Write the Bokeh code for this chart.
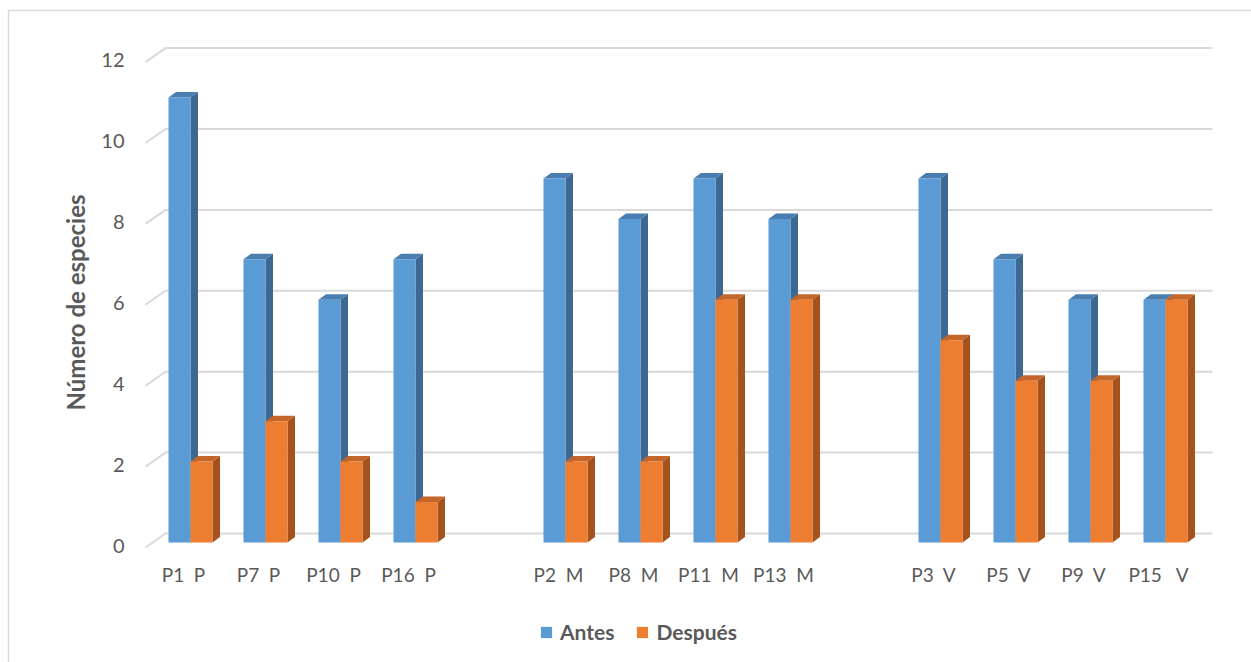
import math
from bokeh.plotting import figure
from bokeh.models import Range1d, Legend, LegendItem
from bokeh.core.properties import value
from bokeh.embed import file_html
from bokeh.resources import INLINE

# ---- data -------------------------------------------------------------
categories = ["P1  P", "P7  P", "P10  P", "P16  P",
              "P2  M", "P8  M", "P11  M", "P13  M",
              "P3  V", "P5  V", "P9  V", "P15   V"]
antes = [11, 7, 6, 7, 9, 8, 9, 8, 9, 7, 6, 6]
despues = [2, 3, 2, 1, 2, 2, 6, 6, 5, 4, 4, 6]
# slot of each category on the x axis (empty slots separate the groups)
slots = [0, 1, 2, 3, 5, 6, 7, 8, 10, 11, 12, 13]
y_ticks = [0, 2, 4, 6, 8, 10, 12]
y_title = "Número de especies"

# ---- style ------------------------------------------------------------
FONT = "Lato"
TEXT = "#595959"
GRID = "#D9D9D9"
BLUE = ("#5B9BD5", "#3C6891", "#4A7DB0")     # front, side, top
ORANGE = ("#ED7D31", "#A6521C", "#C4652A")

W, H = 1251, 662
SLOT_PX = 75.0          # horizontal size of one category slot
UNIT_PX = 40.45         # vertical size of one species
ORIGIN = (190, 542)     # pixel of slot 0 / value 0


def dx(px):
    return px / SLOT_PX


def dy(px):
    return px / UNIT_PX


def sx(px):             # canvas pixel -> x data
    return (px - ORIGIN[0]) / SLOT_PX


def sy(px):             # canvas pixel -> y data
    return (ORIGIN[1] - px) / UNIT_PX


BAR_W = dx(22)
DEPTH_X, DEPTH_Y = dx(7.5), dy(5.5)
FLOOR_DY = dy(5)        # front edge of the floor sits a little lower
WALL_DY = dy(9)         # back wall lines sit a little higher

p = figure(width=W, height=H, output_backend="svg", toolbar_location=None,
           x_range=Range1d(sx(0), sx(W)), y_range=Range1d(sy(H), sy(0)),
           x_axis_location=None, y_axis_location=None, min_border=0)
p.outline_line_color = None
p.xgrid.visible = False
p.ygrid.visible = False
p.background_fill_color = "white"
p.border_fill_color = "white"

# ---- chart area border --------------------------------------------------
p.line([sx(8), sx(8), sx(W + 10)], [sy(H + 10), sy(10), sy(10)],
       line_color=GRID, line_width=1.5)

# ---- floor / wall gridlines -------------------------------------------
x_left, x_wall, x_right = sx(145), sx(165), sx(1212)
gx = [[x_left, x_wall, x_right] for _ in y_ticks]
gy = [[v - FLOOR_DY, v + WALL_DY, v + WALL_DY] for v in y_ticks]
p.multi_line(gx, gy, line_color=GRID, line_width=2)


# ---- 3D bars ----------------------------------------------------------
def bars(values, offset, colors):
    left = [s + offset for s in slots]
    right = [l + BAR_W for l in left]
    side_x = [[r, r + DEPTH_X, r + DEPTH_X, r] for r in right]
    side_y = [[0, DEPTH_Y, v + DEPTH_Y, v] for v in values]
    top_x = [[l, r, r + DEPTH_X, l + DEPTH_X] for l, r in zip(left, right)]
    top_y = [[v, v, v + DEPTH_Y, v + DEPTH_Y] for v in values]
    p.patches(side_x, side_y, fill_color=colors[1], line_color=None)
    p.patches(top_x, top_y, fill_color=colors[2], line_color=None)
    return p.quad(left=left, right=right, bottom=0, top=values,
                  fill_color=colors[0], line_color=None)


r_antes = bars(antes, -BAR_W, BLUE)
r_desp = bars(despues, 0, ORANGE)

# ---- axis texts ---------------------------------------------------------
p.text(x=[sx(124)] * len(y_ticks), y=[v - dy(3) for v in y_ticks],
       text=[str(v) for v in y_ticks], text_align="right",
       text_baseline="middle", text_font=value(FONT),
       text_font_size="20px", text_color=TEXT)

p.text(x=[s - dx(7) for s in slots], y=[sy(574)] * len(slots),
       text=[c.replace(" ", "\u00a0") for c in categories],
       text_align="center", text_baseline="middle", text_font=value(FONT),
       text_font_size="19px", text_color=TEXT)

p.text(x=[sx(75)], y=[sy(302)], text=[y_title], angle=math.pi / 2,
       text_align="center", text_baseline="middle", text_font=value(FONT),
       text_font_size="24px", text_font_style="bold", text_color=TEXT)

# ---- legend -----------------------------------------------------------
legend = Legend(items=[LegendItem(label="Antes", renderers=[r_antes]),
                       LegendItem(label="Después", renderers=[r_desp])],
                orientation="horizontal", location=(539, 18),
                padding=0, margin=0, spacing=21, label_standoff=7,
                glyph_width=14, glyph_height=14,
                border_line_color=None, background_fill_alpha=0,
                label_text_font=FONT, label_text_font_size="21px",
                label_text_font_style="bold", label_text_color=TEXT)
p.add_layout(legend, "center")

open("out.html", "w").write(file_html(p, INLINE))
